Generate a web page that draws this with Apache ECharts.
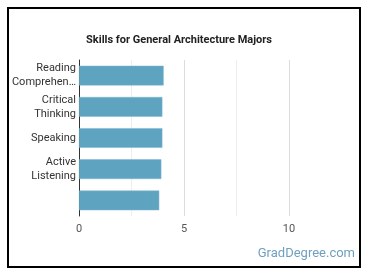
<!DOCTYPE html>
<html><head><meta charset="utf-8">
<script src="https://cdn.jsdelivr.net/npm/echarts@6/dist/echarts.min.js"></script>
<style>html,body{margin:0;padding:0;background:#fff}#c{width:370px;height:278px}</style>
</head><body><div id="c"></div>
<script>
const categories = ['Reading\nComprehen…', 'Critical\nThinking', 'Speaking', 'Active\nListening', ' '];
const values = [4.03, 3.97, 3.97, 3.92, 3.82];
const xTicks = [0, 5, 10];

const chart = echarts.init(document.getElementById('c'), null, {renderer: 'canvas'});
chart.setOption({
  animation: false,
  title: {
    text: 'Skills for General Architecture Majors',
    left: 174, top: 30, textAlign: 'center',
    textStyle: {fontFamily: 'Roboto', fontSize: 11, fontWeight: 'bold', color: '#222'}
  },
  grid: {left: 79, right: 28.5, top: 60, bottom: 62, containLabel: false},
  xAxis: {
    type: 'value', min: 0, max: 12.5, interval: 2.5,
    axisLine: {show: false}, axisTick: {show: false},
    axisLabel: {
      fontFamily: 'Roboto', fontSize: 11, color: '#555', margin: 8,
      formatter: v => xTicks.includes(v) ? String(v) : ''
    },
    splitLine: {lineStyle: {color: ['#dddddd', '#eeeeee', '#dddddd', '#eeeeee', '#dddddd', 'rgba(0,0,0,0)'], width: 1}}
  },
  yAxis: {
    type: 'category', data: categories, inverse: true,
    axisLine: {show: true, lineStyle: {color: '#333', width: 1}},
    axisTick: {show: false},
    axisLabel: {fontFamily: 'Roboto', fontSize: 11, color: '#333', lineHeight: 14, margin: 3}
  },
  series: [{
    type: 'bar', data: values, barCategoryGap: '37%',
    itemStyle: {color: '#5ea4c1', borderColor: '#7bb5cf', borderWidth: 0.5}
  }],
  graphic: [
    {type: 'rect', shape: {x: 8, y: 8, width: 352, height: 259}, style: {fill: 'none', stroke: '#000', lineWidth: 2}, silent: true},
    {type: 'text', right: 15, top: 247, style: {text: 'GradDegree.com', fontFamily: 'Roboto', fontSize: 13, fill: '#6f9fc0'}}
  ]
});
</script></body></html>
